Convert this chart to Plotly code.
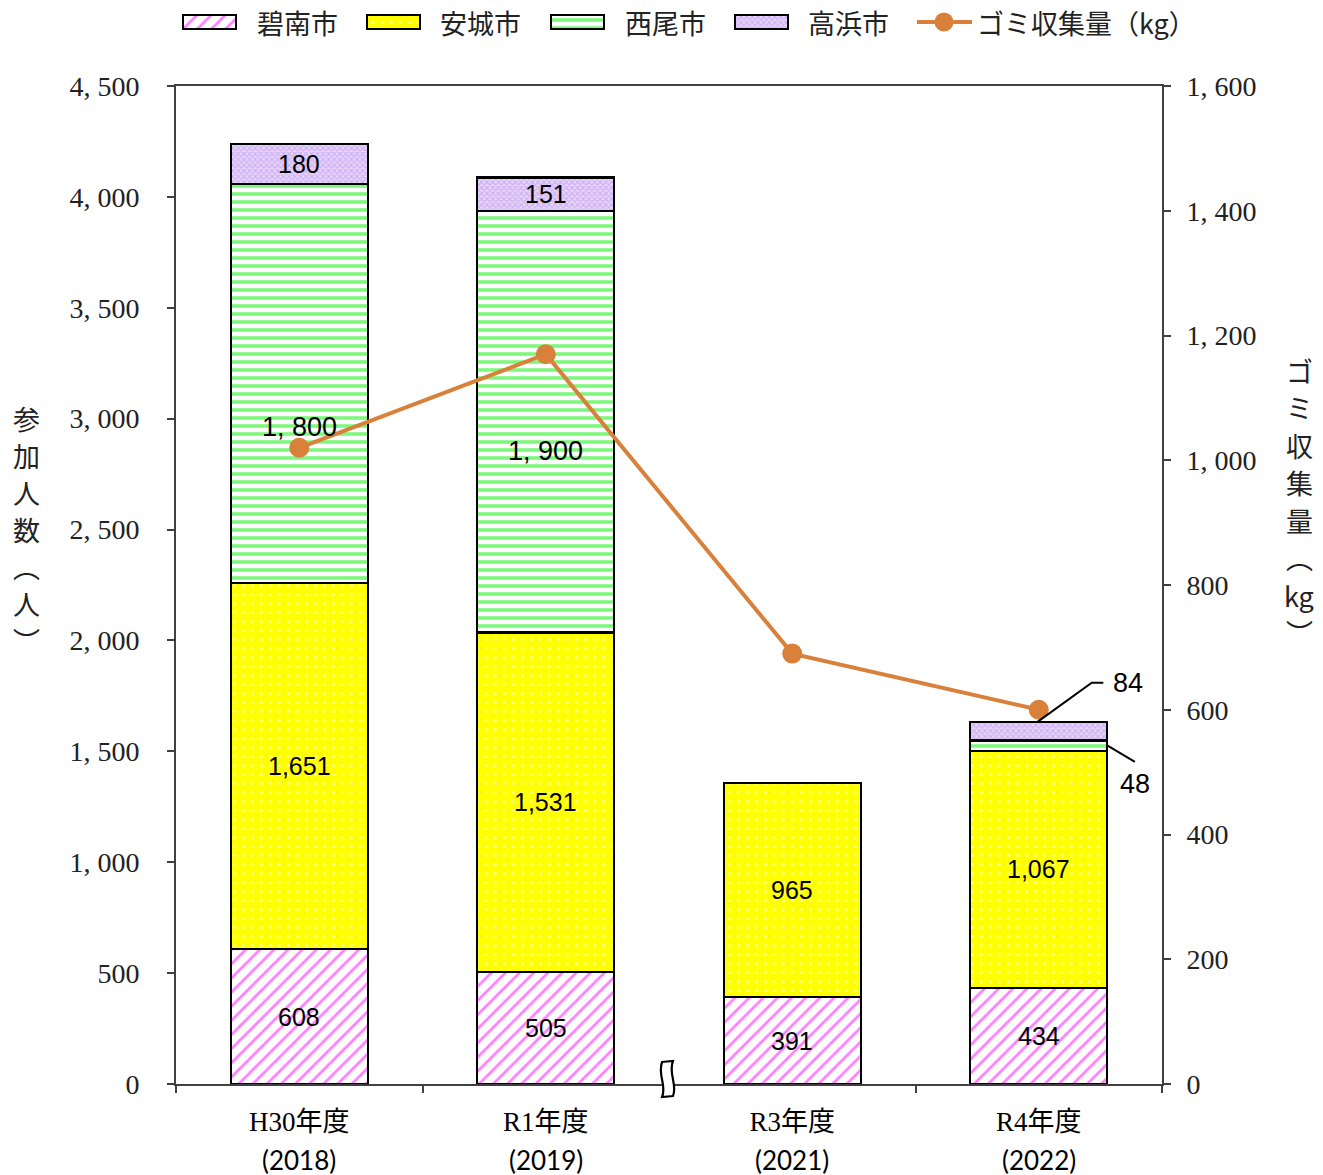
import plotly.graph_objects as go

# Fiscal years and calendar years
years = ["H30年度", "R1年度", "R3年度", "R4年度"]
years_ad = ["(2018)", "(2019)", "(2021)", "(2022)"]

# Participants per city (people)
hekinan = [608, 505, 391, 434]
anjo = [1651, 1531, 965, 1067]
nishio = [1800, 1900, None, 48]
takahama = [180, 151, None, 84]

# Garbage collected (kg)
garbage = [1020, 1170, 690, 600]

# Vertical axis titles, one glyph per line
left_title = ["参", "加", "人", "数", "︵", "人", "︶"]
right_title = ["ゴ", "ミ", "収", "集", "量", "︵", "kg", "︶"]

W, H = 1323, 1175
x = list(range(len(years)))
SERIF = "Liberation Serif, Noto Sans CJK JP"
SANS = "Liberation Sans, Arial"
CAL = "Lato, Liberation Sans"
JP = "Noto Sans CJK JP"
ORANGE = "#D9803A"
FRAME = "#404040"


def px_x(p):
    return p / W


def px_y(p):
    return 1 - p / H


patterns = {
    "碧南市": dict(shape="/", bgcolor="#FFFFFF", fgcolor="#FF00FF", size=10, solidity=0.28),
    "安城市": dict(shape=".", bgcolor="#FFFF00", fgcolor="#FFFFFF", size=9, solidity=0.1),
    "西尾市": dict(shape="-", bgcolor="#FFFFFF", fgcolor="#00F000", size=8, solidity=0.45),
    "高浜市": dict(shape="x", bgcolor="#E6D6FA", fgcolor="#B889EE", size=4, solidity=0.5),
}
series = [("碧南市", hekinan), ("安城市", anjo), ("西尾市", nishio), ("高浜市", takahama)]

fig = go.Figure()

for name, vals in series:
    fig.add_trace(go.Bar(
        x=x, y=vals, name=name, width=0.555, showlegend=False,
        marker=dict(color=patterns[name]["bgcolor"], pattern=patterns[name],
                    line=dict(color="#000000", width=2.2)),
        hoverinfo="skip",
    ))

fig.add_trace(go.Scatter(
    x=x, y=garbage, name="ゴミ収集量（kg）", yaxis="y2", mode="lines+markers",
    showlegend=False, line=dict(color=ORANGE, width=4),
    marker=dict(color=ORANGE, size=20), hoverinfo="skip",
))

annotations = []

# Segment labels
nishio_label_frac = {0: 0.39, 1: 0.43}
for i in range(len(years)):
    base = 0
    for name, vals in series:
        v = vals[i]
        if v is None:
            continue
        if name == "西尾市" and v >= 1000:
            annotations.append(dict(
                x=i, y=base + v * nishio_label_frac[i], text=f"{v:,}".replace(",", ", "),
                showarrow=False, font=dict(family=SANS, size=27, color="#000")))
        elif v >= 100:
            annotations.append(dict(
                x=i, y=base + v / 2, text=f"{v:,}", showarrow=False,
                font=dict(family=SANS, size=25, color="#000")))
        base += v

# Leader-line labels for the thin segments of the last bar
i = 3
top_nishio = hekinan[i] + anjo[i] + nishio[i]
top_takahama = top_nishio + takahama[i]
annotations.append(dict(x=i + 0.295, y=top_takahama + 176, text=f"{takahama[i]:,}",
                        xanchor="left", showarrow=False,
                        font=dict(family=SANS, size=27, color="#000")))
annotations.append(dict(x=i + 0.39, y=top_nishio - 196, text=f"{nishio[i]:,}",
                        xanchor="center", showarrow=False,
                        font=dict(family=SANS, size=27, color="#000")))

shapes = [
    dict(type="path", xref="x", yref="y",
         path=(f"M {i - 0.005},{top_takahama} L {i + 0.215},{top_takahama + 176} "
               f"L {i + 0.262},{top_takahama + 176}"),
         line=dict(color="#000", width=2)),
    dict(type="line", xref="x", yref="y",
         x0=i + 0.276, y0=top_nishio - 21, x1=i + 0.39, y1=top_nishio - 97,
         line=dict(color="#000", width=2)),
]

# Axis break mark between R1 and R3
bx = 1.5
w = 0.028
shapes.append(dict(
    type="path", xref="x", yref="paper",
    path=(f"M {bx - w},{px_y(1062)} C {bx - w - 0.02},{px_y(1075)} {bx - w + 0.02},{px_y(1085)} {bx - w},{px_y(1097)} "
          f"L {bx + w - 0.012},{px_y(1096)} "
          f"C {bx + w - 0.012 + 0.02},{px_y(1085)} {bx + w - 0.012 - 0.02},{px_y(1074)} {bx + w - 0.012},{px_y(1061)} Z"),
    fillcolor="#FFFFFF", line=dict(color="#000", width=2.2), layer="above"))

# Second row of category labels (calendar year)
for i, t in enumerate(years_ad):
    annotations.append(dict(x=i, xref="x", yref="paper", y=px_y(1160), yanchor="middle",
                            text=t, showarrow=False,
                            font=dict(family=CAL, size=26, color="#000")))

# Vertical axis titles, stacked glyph by glyph
for k, ch in enumerate(left_title):
    annotations.append(dict(
        xref="paper", yref="paper", x=px_x(26), y=px_y(418 + 37 * k),
        xanchor="center", yanchor="middle", text=ch, showarrow=False,
        font=dict(family=JP, size=27, color="#222")))
for k, ch in enumerate(right_title):
    annotations.append(dict(
        xref="paper", yref="paper", x=px_x(1299), y=px_y(370 + 37.5 * k),
        xanchor="center", yanchor="middle", text=ch, showarrow=False,
        font=dict(family=JP, size=27, color="#222")))

# Legend row, drawn on its own pixel-scaled axes
legend_items = [("碧南市", 183, 255), ("安城市", 367, 438), ("西尾市", 551, 623), ("高浜市", 735, 806)]
LEG_Y = 22
for name, sx, tx in legend_items:
    fig.add_trace(go.Bar(
        x=[53], base=[sx], y=[LEG_Y], orientation="h", width=14,
        xaxis="x3", yaxis="y3", showlegend=False, hoverinfo="skip",
        marker=dict(color=patterns[name]["bgcolor"], pattern=patterns[name],
                    line=dict(color="#000000", width=2)),
    ))
    annotations.append(dict(xref="x3", yref="y3", x=tx, y=LEG_Y, xanchor="left",
                            text=name, showarrow=False,
                            font=dict(family=JP, size=27, color="#222")))
fig.add_trace(go.Scatter(
    x=[917, 972], y=[LEG_Y] * 2, xaxis="x3", yaxis="y3", mode="lines",
    showlegend=False, hoverinfo="skip", line=dict(color=ORANGE, width=4),
))
fig.add_trace(go.Scatter(
    x=[944], y=[LEG_Y], xaxis="x3", yaxis="y3", mode="markers",
    showlegend=False, hoverinfo="skip", marker=dict(color=ORANGE, size=19, opacity=1),
))
annotations.append(dict(xref="x3", yref="y3", x=975, y=LEG_Y, xanchor="left",
                        text="ゴミ収集量（kg）", showarrow=False,
                        font=dict(family=JP, size=27, color="#222")))

left_ticks = list(range(0, 4501, 500))
right_ticks = list(range(0, 1601, 200))

fig.update_layout(
    width=W, height=H,
    margin=dict(l=0, r=0, t=0, b=0, autoexpand=False),
    paper_bgcolor="#FFFFFF", plot_bgcolor="#FFFFFF",
    barmode="stack",
    showlegend=False,
    xaxis=dict(
        domain=[px_x(176), px_x(1162)], anchor="y",
        range=[-0.5, 3.5], tickvals=x, ticktext=years,
        tickfont=dict(family=SERIF, size=27, color="#000"),
        ticks="", ticklabelstandoff=13,
        showline=True, linecolor=FRAME, linewidth=2, mirror=True,
        showgrid=False, zeroline=False, automargin=False,
        minor=dict(tick0=0.5, dtick=1, ticks="outside", ticklen=7, tickcolor=FRAME, tickwidth=1.5),
    ),
    yaxis=dict(
        domain=[px_y(1084), px_y(86)], anchor="x",
        range=[0, 4500], tickvals=left_ticks,
        ticktext=[f"{v:,}".replace(",", ", ") for v in left_ticks],
        tickfont=dict(family=SERIF, size=28, color="#222"),
        ticks="outside", ticklen=7, tickcolor=FRAME, tickwidth=1.5,
        showline=True, linecolor=FRAME, linewidth=2,
        showgrid=False, zeroline=False, ticklabelstandoff=22, automargin=False,
    ),
    yaxis2=dict(
        range=[0, 1600], overlaying="y", side="right", anchor="x", tickvals=right_ticks,
        ticktext=[f"{v:,}".replace(",", ", ") for v in right_ticks],
        tickfont=dict(family=SERIF, size=28, color="#222"),
        ticks="outside", ticklen=7, tickcolor=FRAME, tickwidth=1.5,
        showline=True, linecolor=FRAME, linewidth=2,
        showgrid=False, zeroline=False, ticklabelstandoff=10, automargin=False,
    ),
    xaxis3=dict(domain=[0, 1], range=[0, W], anchor="y3", visible=False, fixedrange=True),
    yaxis3=dict(domain=[px_y(45), 1], range=[45, 0], anchor="x3", visible=False, fixedrange=True),
    annotations=annotations,
    shapes=shapes,
)

fig.write_html("out.html")
